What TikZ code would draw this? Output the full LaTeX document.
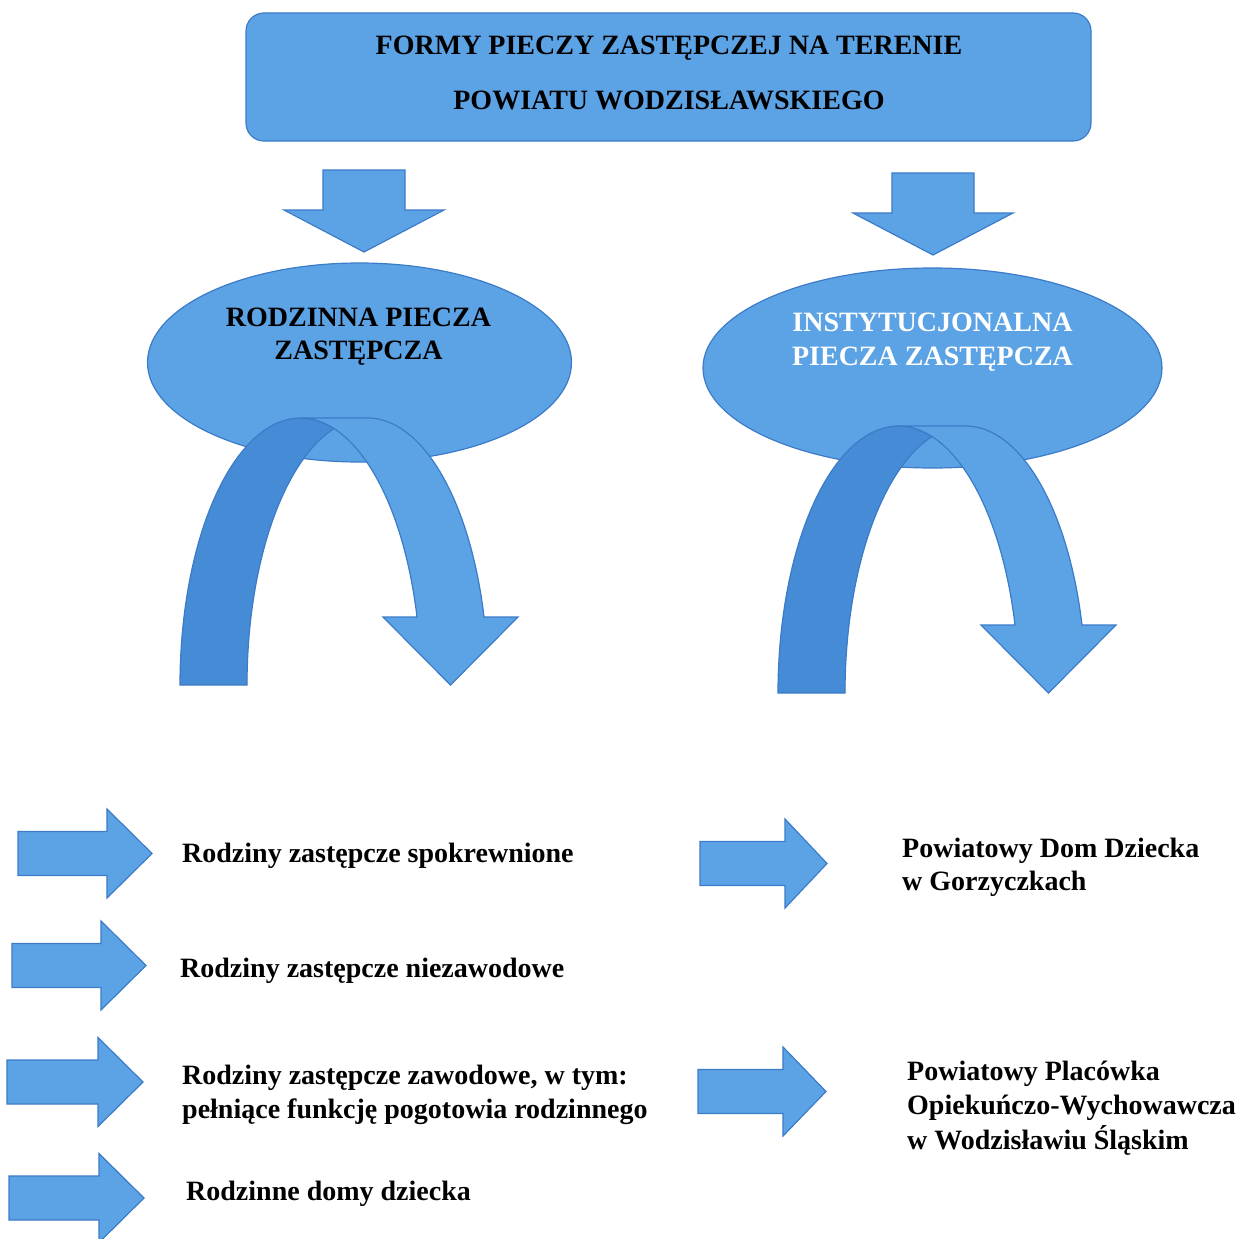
\documentclass[tikz,border=0pt]{standalone}
\usepackage{fontspec}
\setmainfont{Liberation Serif}
\usetikzlibrary{shapes.geometric}
\definecolor{boxblue}{RGB}{92,163,230}
\definecolor{archdark}{RGB}{70,139,214}
\definecolor{edgeblue}{RGB}{60,123,200}
\tikzset{
  blueshape/.style={fill=boxblue, draw=edgeblue, line width=1.2pt},
  darkshape/.style={fill=archdark, draw=edgeblue, line width=1.2pt},
  headtxt/.style={font=\fontsize{28}{33}\selectfont\bfseries, inner sep=0pt, anchor=base},
  itemtxt/.style={font=\fontsize{28}{33}\selectfont\bfseries, inner sep=0pt, anchor=base west},
}
% right-pointing block arrow: left x, centre y, length, head length
\newcommand\RArrow[4]{%
  \draw[blueshape] ({#1},{#2-22}) -- ({#1+#3-#4},{#2-22}) -- ({#1+#3-#4},{#2-44.5})
    -- ({#1+#3},{#2}) -- ({#1+#3-#4},{#2+44.5}) -- ({#1+#3-#4},{#2+22})
    -- ({#1},{#2+22}) -- cycle;}
% down-pointing block arrow: centre x, top y
\newcommand\DArrow[2]{%
  \draw[blueshape] ({#1-41},{#2}) -- ({#1+41},{#2}) -- ({#1+41},{#2+40})
    -- ({#1+80},{#2+40}) -- ({#1},{#2+82}) -- ({#1-80},{#2+40})
    -- ({#1-41},{#2+40}) -- cycle;}
% curved down arrow: left x, bottom y
\newcommand\ArchArrow[2]{%
  \begin{scope}[shift={(#1,#2)}]
    \draw[darkshape] plot[domain=180:73.86,samples=50] ({120.5+120.5*cos(\x)},{-267*sin(\x)})
      -- plot[domain=106.14:180,samples=50] ({187.5+120.5*cos(\x)},{-267*sin(\x)}) -- cycle;
    \draw[blueshape] (270.5,0) -- (203,-68)
      -- plot[domain=14.75:90,samples=50] ({120.5+120.5*cos(\x)},{-267*sin(\x)})
      -- plot[domain=90:14.75,samples=50] ({187.5+120.5*cos(\x)},{-267*sin(\x)})
      -- (338,-68) -- cycle;
  \end{scope}}
\begin{document}
\begin{tikzpicture}[x=1pt,y=-1pt]
\useasboundingbox (0,0) rectangle (1240,1239);
\fill[white] (0,0) rectangle (1240,1239);

% title box
\node[blueshape, rounded corners=18pt, minimum width=845pt, minimum height=128pt, inner sep=0pt] (title) at (668.5,77) {};
\node[headtxt] (t1) at (669,55) {FORMY PIECZY ZASTĘPCZEJ NA TERENIE};
\node[headtxt] (t2) at (669,110) {POWIATU WODZISŁAWSKIEGO};

% down arrows
\DArrow{364}{170}
\DArrow{933}{173}

% ellipses
\node[blueshape, ellipse, minimum width=424pt, minimum height=199pt, inner sep=0pt] (rodz) at (359.5,362.5) {};
\node[blueshape, ellipse, minimum width=459pt, minimum height=200pt, inner sep=0pt] (inst) at (932.5,368) {};
\node[headtxt] (r1) at (358.5,326) {RODZINNA PIECZA};
\node[headtxt] (r2) at (358.5,359) {ZASTĘPCZA};
\node[headtxt, text=white] (i1) at (932.5,331) {INSTYTUCJONALNA};
\node[headtxt, text=white] (i2) at (932.5,365) {PIECZA ZASTĘPCZA};

% curved arrows
\ArchArrow{180}{685}
\ArchArrow{778}{693}

% list arrows
\RArrow{18}{853.5}{134}{45}
\RArrow{12}{965.5}{134}{45}
\RArrow{7}{1082}{136}{45}
\RArrow{9}{1198}{135}{45}
\RArrow{700}{863.5}{127}{42}
\RArrow{698}{1091.5}{128}{43}

% list texts
\node[itemtxt] (a1) at (182,862) {Rodziny zastępcze spokrewnione};
\node[itemtxt] (a2) at (180,977) {Rodziny zastępcze niezawodowe};
\node[itemtxt] (a3) at (182,1084) {Rodziny zastępcze zawodowe, w tym:};
\node[itemtxt] (a4) at (182,1118) {pełniące funkcję pogotowia rodzinnego};
\node[itemtxt] (a5) at (186,1200) {Rodzinne domy dziecka};
\node[itemtxt] (b1) at (902,857) {Powiatowy Dom Dziecka};
\node[itemtxt] (b2) at (902,890) {w Gorzyczkach};
\node[itemtxt] (c1) at (907,1080) {Powiatowy Placówka};
\node[itemtxt] (c2) at (907,1114) {Opiekuńczo-Wychowawcza};
\node[itemtxt] (c3) at (907,1149) {w Wodzisławiu Śląskim};
\end{tikzpicture}
\end{document}
